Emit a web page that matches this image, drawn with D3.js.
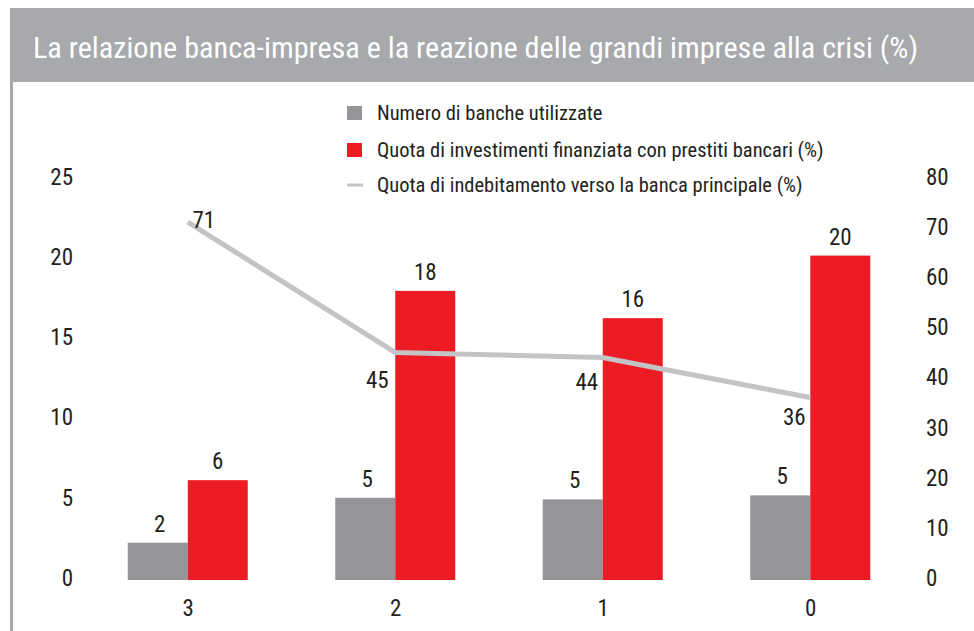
<!DOCTYPE html>
<html>
<head>
<meta charset="utf-8">
<script src="https://cdn.jsdelivr.net/npm/d3@7"></script>
<style>
  body { margin: 0; background: #fff; }
  text { font-family: "Liberation Sans Narrow", "Arial Narrow", "Roboto Condensed", sans-serif; fill: #231f20; }
</style>
</head>
<body>
<div class="graph"></div>
<script>
// dati
const categories = ['3', '2', '1', '0']
const numeroBanche = [2.2, 5.0, 4.9, 5.15]
const quotaInvestimenti = [6.1, 17.9, 16.2, 20.1]
const quotaBancaPrincipale = [71, 45, 44, 36]
const labelBanche = ['2', '5', '5', '5']
const labelInvestimenti = ['6', '18', '16', '20']
const labelPrincipale = ['71', '45', '44', '36']
const leftTicks = [0, 5, 10, 15, 20, 25]
const rightTicks = [0, 10, 20, 30, 40, 50, 60, 70, 80]
const legendItems = [
  'Numero di banche utilizzate',
  'Quota di investimenti finanziata con prestiti bancari (%)',
  'Quota di indebitamento verso la banca principale (%)'
]
const title = 'La relazione banca-impresa e la reazione delle grandi imprese alla crisi (%)'

const W = 974, H = 631
const GREY = '#939598', RED = '#ed1c24', LINE = '#c3c4c6', BAR = '#a7a9ac'
const FONT = '"Liberation Sans Narrow", "Arial Narrow", "Roboto Condensed", sans-serif'

const svg = d3.select('.graph').append('svg')
  .attr('width', W).attr('height', H)

// barra del titolo
svg.append('rect').attr('x', 10).attr('y', 8).attr('width', W - 10).attr('height', 74).attr('fill', BAR)
svg.append('rect').attr('x', 10).attr('y', 82).attr('width', 3).attr('height', H - 82).attr('fill', BAR)
svg.append('text').attr('x', 33).attr('y', 58)
  .attr('textLength', 885).attr('lengthAdjust', 'spacingAndGlyphs')
  .style('font-size', '30px').style('fill', '#fff')
  .text(title)

const x = d3.scalePoint().domain(categories).range([84, 914]).padding(0.5)
const yL = d3.scaleLinear().domain([0, 25]).range([578, 177])
const yR = d3.scaleLinear().domain([0, 80]).range([578, 177])
const bw = 60

// assi (solo etichette)
const axL = svg.append('g').attr('transform', 'translate(73,0)')
  .call(d3.axisLeft(yL).tickValues(leftTicks).tickSize(0).tickPadding(0))
const axR = svg.append('g').attr('transform', 'translate(926,0)')
  .call(d3.axisRight(yR).tickValues(rightTicks).tickSize(0).tickPadding(0))
const axB = svg.append('g').attr('transform', 'translate(0,600)')
  .call(d3.axisBottom(x).tickSize(0).tickPadding(0))
;[axL, axR, axB].forEach(ax => {
  ax.attr('font-family', null)
  ax.select('.domain').remove()
  ax.selectAll('text').style('font-size', '23px').attr('fill', '#231f20')
    .style('font-family', FONT)
})
axB.selectAll('text').attr('dy', '0.71em')

// barre
svg.append('g').selectAll('rect').data(categories).enter().append('rect')
  .attr('x', d => x(d) - bw).attr('width', bw)
  .attr('y', (d, i) => yL(numeroBanche[i]))
  .attr('height', (d, i) => yL(0) - yL(numeroBanche[i]) + 2)
  .attr('fill', GREY)
svg.append('g').selectAll('rect').data(categories).enter().append('rect')
  .attr('x', d => x(d)).attr('width', bw)
  .attr('y', (d, i) => yL(quotaInvestimenti[i]))
  .attr('height', (d, i) => yL(0) - yL(quotaInvestimenti[i]) + 2)
  .attr('fill', RED)

// etichette barre
svg.append('g').selectAll('text').data(categories).enter().append('text')
  .attr('x', d => x(d) - bw / 2 + 2)
  .attr('y', (d, i) => yL(numeroBanche[i]) - 11)
  .attr('text-anchor', 'middle').style('font-size', '23px')
  .text((d, i) => labelBanche[i])
svg.append('g').selectAll('text').data(categories).enter().append('text')
  .attr('x', d => x(d) + bw / 2)
  .attr('y', (d, i) => yL(quotaInvestimenti[i]) - 11)
  .attr('text-anchor', 'middle').style('font-size', '23px')
  .text((d, i) => labelInvestimenti[i])

// linea
const line = d3.line().x((d, i) => x(categories[i])).y(d => yR(d))
svg.append('path').datum(quotaBancaPrincipale)
  .attr('d', line).attr('fill', 'none')
  .attr('stroke', LINE).attr('stroke-width', 5)

const lblOff = [[16, 6], [-18, 36], [-16, 33], [-16, 27]]
svg.append('g').selectAll('text').data(quotaBancaPrincipale).enter().append('text')
  .attr('x', (d, i) => x(categories[i]) + lblOff[i][0])
  .attr('y', (d, i) => yR(d) + lblOff[i][1])
  .attr('text-anchor', 'middle').style('font-size', '23px')
  .text((d, i) => labelPrincipale[i])

// legenda
const leg = svg.append('g').attr('transform', 'translate(347,0)')
const legY = [113, 150, 185]
leg.append('rect').attr('x', 0).attr('y', legY[0] - 7).attr('width', 15).attr('height', 14).attr('fill', GREY)
leg.append('rect').attr('x', 0).attr('y', legY[1] - 7).attr('width', 15).attr('height', 14).attr('fill', RED)
leg.append('line').attr('x1', 0).attr('x2', 16).attr('y1', legY[2]).attr('y2', legY[2])
  .attr('stroke', LINE).attr('stroke-width', 3)
leg.selectAll('text.l').data(legendItems).enter().append('text')
  .attr('x', 30).attr('y', (d, i) => legY[i]).attr('dy', '0.35em')
  .style('font-size', '20.5px')
  .text(d => d)
</script>
</body>
</html>
